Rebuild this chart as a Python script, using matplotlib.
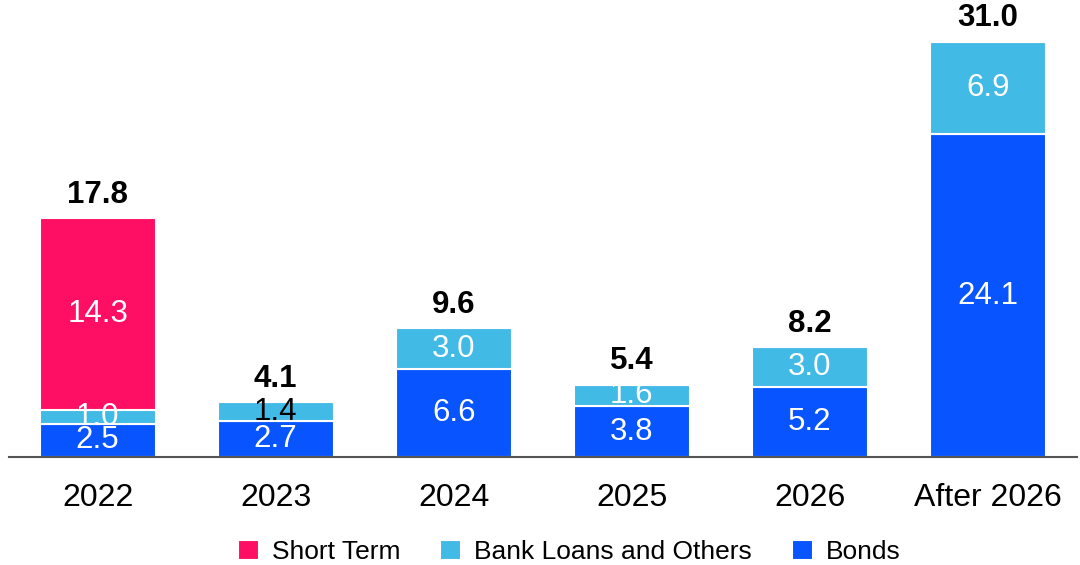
import matplotlib
matplotlib.use("Agg")
import matplotlib.pyplot as plt
import numpy as np

plt.rcParams["font.family"] = ["Liberation Sans", "DejaVu Sans"]

categories = ["2022", "2023", "2024", "2025", "2026", "After 2026"]
bonds = [2.5, 2.7, 6.6, 3.8, 5.2, 24.1]
bank_loans = [1.0, 1.4, 3.0, 1.6, 3.0, 6.9]
short_term = [14.3, 0, 0, 0, 0, 0]
totals = [17.8, 4.1, 9.6, 5.4, 8.2, 31.0]

c_short = "#FF0F64"
c_bank = "#42BAE6"
c_bond = "#0854FF"

fig = plt.figure(figsize=(10.8, 5.65), dpi=100)
ax = fig.add_axes([0.008, 0.191, 0.989, 0.809])

x = np.arange(len(categories))
w = 0.65
b1 = ax.bar(x, bonds, w, color=c_bond, edgecolor="white", lw=1.5, label="Bonds")
b2 = ax.bar(x, bank_loans, w, bottom=bonds, color=c_bank, edgecolor="white", lw=1.5,
            label="Bank Loans and Others")
bottom3 = np.array(bonds) + np.array(bank_loans)
b3 = ax.bar(x, short_term, w, bottom=bottom3, color=c_short, edgecolor="white", lw=1.5,
            label="Short Term")

fs = 22.5
# segment labels
for i in range(len(categories)):
    ax.text(x[i], bonds[i] / 2, f"{bonds[i]:.1f}", ha="center", va="center",
            color="white", fontsize=fs)
    col = "black" if categories[i] == "2023" else "white"
    ax.text(x[i], bonds[i] + bank_loans[i] / 2, f"{bank_loans[i]:.1f}", ha="center",
            va="center", color=col, fontsize=fs)
    if short_term[i] > 0:
        ax.text(x[i], bottom3[i] + short_term[i] / 2, f"{short_term[i]:.1f}",
                ha="center", va="center", color="white", fontsize=fs)
    ax.annotate(f"{totals[i]:.1f}", (x[i], totals[i]), xytext=(0, 6),
                textcoords="offset points", ha="center", va="bottom",
                fontsize=fs, fontweight="bold")

ax.set_xlim(-0.5, len(categories) - 0.5)
ax.set_ylim(0, 34.1)
ax.set_xticks(x)
ax.set_xticklabels(categories, fontsize=23)
ax.tick_params(axis="x", length=0, pad=19)
ax.set_yticks([])
for s in ["top", "right", "left"]:
    ax.spines[s].set_visible(False)
ax.spines["bottom"].set_color("#555555")
ax.spines["bottom"].set_linewidth(1.5)

fig.legend(handles=[b3, b2, b1], loc="lower center", bbox_to_anchor=(0.527, -0.04),
           ncol=3, frameon=False, fontsize=19, handlelength=0.8, handleheight=0.8,
           columnspacing=1.5, handletextpad=0.5)

fig.savefig("out.png", dpi=100)
